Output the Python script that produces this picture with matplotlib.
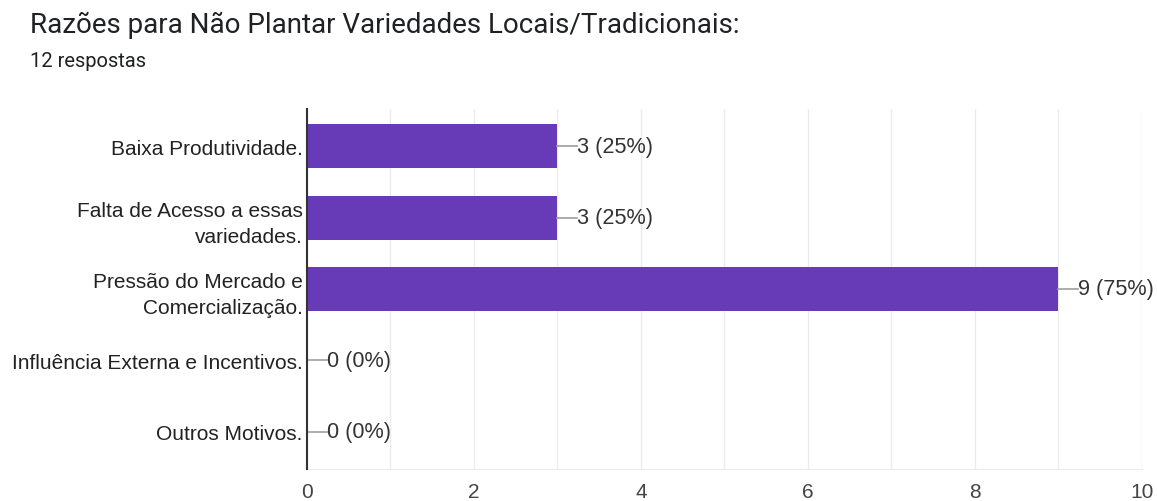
import numpy as np
import matplotlib
matplotlib.use("Agg")
import matplotlib.pyplot as plt

plt.rcParams["font.family"] = ["Liberation Sans", "DejaVu Sans"]

title = "Razões para Não Plantar Variedades Locais/Tradicionais:"
subtitle = "12 respostas"
categories = [
    "Baixa Produtividade.",
    "Falta de Acesso a essas\nvariedades.",
    "Pressão do Mercado e\nComercialização.",
    "Influência Externa e Incentivos.",
    "Outros Motivos.",
]
counts = [3, 3, 9, 0, 0]
percents = [25, 25, 75, 0, 0]

fig = plt.figure(figsize=(11.57, 5.02), dpi=100)
ax = fig.add_axes([0.2653, 0.0637, 0.7217, 0.7173])

y = np.arange(len(categories))
ax.barh(y, counts, height=0.615, color="#673ab7", zorder=3)

# connector lines + value labels
for yi, c, p in zip(y, counts, percents):
    ax.plot([c, c + 0.24], [yi, yi], color="#9e9e9e", lw=1.2, zorder=4)
    ax.text(c + 0.24, yi, f"{c} ({p}%)", va="center", ha="left",
            fontsize=15.6, color="#333333", zorder=5)

ax.set_xlim(0, 10)
ax.set_ylim(len(categories) - 0.48, -0.52)
ax.set_xticks(range(0, 11, 2))
ax.set_xticks(range(0, 11), minor=True)
ax.grid(axis="x", which="both", color="#ebebeb", lw=1, zorder=0)
ax.set_yticks(y)
ax.set_yticklabels(categories, fontsize=15, color="#222222", linespacing=1.5)
ax.tick_params(axis="both", length=0, which="both")
ax.tick_params(axis="x", labelsize=15, labelcolor="#444444", pad=9)
ax.tick_params(axis="y", pad=3)

for s in ["top", "right"]:
    ax.spines[s].set_visible(False)
ax.spines["bottom"].set_color("#ebebeb")
ax.spines["left"].set_color("#333333")
ax.spines["left"].set_linewidth(1.5)
ax.spines["left"].set_zorder(6)

fig.text(0.026, 0.95, title, fontsize=20, color="#202124", va="center",
         ha="left", family=["Roboto", "DejaVu Sans"])
fig.text(0.026, 0.878, subtitle, fontsize=14.5, color="#202124", va="center",
         ha="left", family=["Roboto", "DejaVu Sans"])

fig.savefig("out.png", dpi=100)
